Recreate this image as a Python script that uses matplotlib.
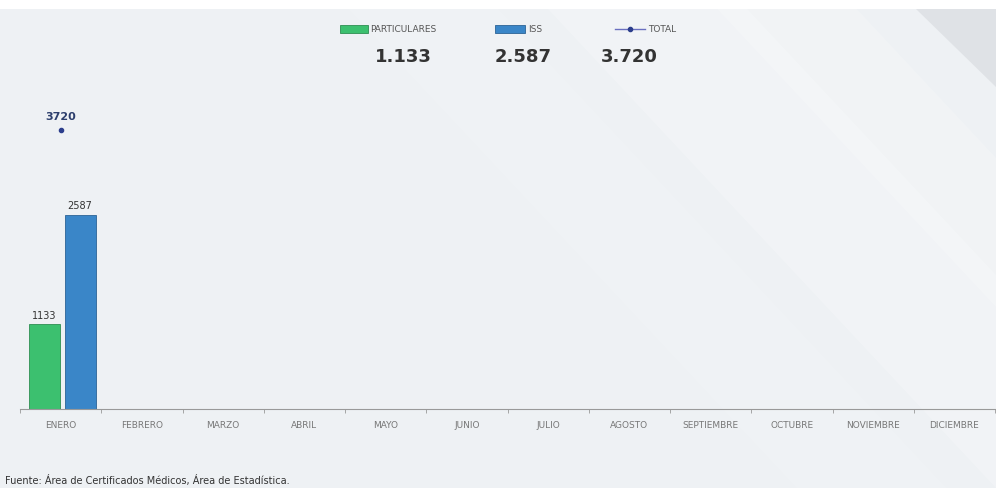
import numpy as np
import matplotlib.pyplot as plt
from matplotlib.patches import Polygon, Rectangle
from matplotlib.lines import Line2D

# Datos
meses = ["ENERO", "FEBRERO", "MARZO", "ABRIL", "MAYO", "JUNIO", "JULIO",
         "AGOSTO", "SEPTIEMBRE", "OCTUBRE", "NOVIEMBRE", "DICIEMBRE"]
particulares = [1133]
iss = [2587]
total = [3720]
series = ["PARTICULARES", "ISS", "TOTAL"]
resumen = ["1.133", "2.587", "3.720"]

verde = "#3cc06f"
azul = "#3a86c8"
fondo = "#eef1f4"

W, H = 996, 489
fig = plt.figure(figsize=(W / 100, H / 100), dpi=100)
fig.patch.set_facecolor("white")

# fondo gris con franjas diagonales suaves
fig.add_artist(Rectangle((0, 0), 1, 1 - 10 / H, transform=fig.transFigure,
                         facecolor=fondo, edgecolor="none", zorder=-10))
for (x0, x1, a) in [(0.55, 0.75, 0.2), (0.72, 0.86, 0.18), (0.35, 0.5, 0.1)]:
    fig.add_artist(Polygon([(x0, 0.98), (x1, 0.98), (x1 + 0.45, 0.0), (x0 + 0.45, 0.0)],
                           closed=True, transform=fig.transFigure,
                           facecolor="white", edgecolor="none", alpha=a, zorder=-9))
fig.add_artist(Polygon([(0.92, 0.98), (1.0, 0.98), (1.0, 0.82)], closed=True,
                       transform=fig.transFigure, facecolor="#d6d9dd",
                       edgecolor="none", alpha=0.6, zorder=-8))

ax = fig.add_axes([20 / W, 79 / H, 975 / W, 310 / H])
ax.set_facecolor("none")
x = np.arange(len(meses))
w = 0.38

ax.bar(x[:1] - 0.2, particulares, width=w, color=verde, edgecolor="#2e8f52", linewidth=0.6)
ax.bar(x[:1] + 0.24, iss, width=w, color=azul, edgecolor="#2b6396", linewidth=0.6)
ax.plot(x[:1], total, marker="o", markersize=3, color="#2c3e8c", linestyle="-")

for xi, v in zip(x[:1] - 0.2, particulares):
    ax.text(xi, v + 60, str(v), ha="center", va="bottom", fontsize=7, color="#333333")
for xi, v in zip(x[:1] + 0.24, iss):
    ax.text(xi, v + 60, str(v), ha="center", va="bottom", fontsize=7, color="#333333")
for xi, v in zip(x[:1], total):
    ax.text(xi, v + 120, str(v), ha="center", va="bottom", fontsize=8,
            fontweight="bold", color="#2c3e6c")

ax.set_xlim(-0.5, len(meses) - 0.5)
ax.set_ylim(0, 310 / 0.075)
ax.set_xticks(x)
ax.set_xticklabels(meses, fontsize=6.5, color="#777777")
ax.set_xticks(np.arange(-0.5, len(meses), 1), minor=True)
ax.tick_params(axis="x", which="major", length=0, pad=8)
ax.tick_params(axis="x", which="minor", length=3, color="#999999")
ax.set_yticks([])
for s in ["top", "right", "left"]:
    ax.spines[s].set_visible(False)
ax.spines["bottom"].set_color("#999999")

# leyenda manual
ly = 1 - 30 / H
fig.add_artist(Rectangle((340 / W, 1 - 34 / H), 28 / W, 8 / H, transform=fig.transFigure,
                         facecolor=verde, edgecolor="#2e8f52", lw=0.6))
fig.add_artist(Rectangle((495 / W, 1 - 34 / H), 30 / W, 8 / H, transform=fig.transFigure,
                         facecolor=azul, edgecolor="#2b6396", lw=0.6))
fig.add_artist(Line2D([615 / W, 645 / W], [ly, ly], transform=fig.transFigure,
                      color="#6a6fc0", lw=1))
fig.add_artist(Line2D([630 / W], [ly], transform=fig.transFigure, marker="o",
                      markersize=3, color="#2c3e8c"))
for xp, txt in zip([370, 528, 648], series):
    fig.text(xp / W, ly, txt, ha="left", va="center", fontsize=6.5, color="#555555")

for xp, txt in zip([403, 523, 629], resumen):
    fig.text(xp / W, 1 - 57 / H, txt, ha="center", va="center",
             fontsize=13, fontweight="bold", color="#333333")

fig.text(5 / W, 1 - 481 / H, "Fuente: Área de Certificados Médicos, Área de Estadística.",
         ha="left", va="center", fontsize=7, color="#333333")

fig.savefig("out.png", dpi=100)
